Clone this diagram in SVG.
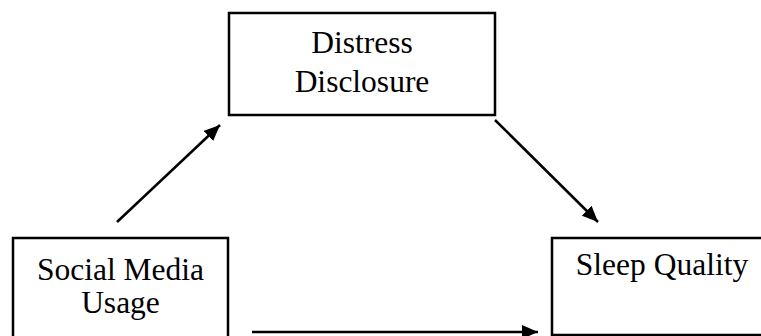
<svg xmlns="http://www.w3.org/2000/svg" width="761" height="336" viewBox="0 0 761 336">
<style>
.box{fill:#fff;stroke:#000;stroke-width:2.5}
.t{font-family:"Liberation Serif","Times New Roman",serif;font-size:31.5px;fill:#000;text-anchor:middle}
.c{stroke:#000;stroke-width:2.5;fill:none}
</style>
<defs>
<marker id="ah" markerUnits="userSpaceOnUse" markerWidth="16" markerHeight="14" refX="16" refY="7" orient="auto" viewBox="0 0 16 14">
<path d="M0,0 L16,7 L0,14 Z" fill="#000"/>
</marker>
</defs>
<rect width="761" height="336" fill="#fff"/>
<g id="distress">
<rect class="box" x="229" y="13" width="266" height="102"/>
<text class="t" x="362" y="53">Distress</text>
<text class="t" x="362" y="92">Disclosure</text>
</g>
<g id="social">
<rect class="box" x="13" y="238" width="215" height="110"/>
<text class="t" x="120.5" y="280">Social Media</text>
<text class="t" x="120.5" y="313">Usage</text>
</g>
<g id="sleep">
<rect class="box" x="552" y="238" width="220" height="97"/>
<text class="t" x="662" y="275">Sleep Quality</text>
</g>
<g id="connectors">
<line class="c" x1="117" y1="222" x2="220" y2="125" marker-end="url(#ah)"/>
<line class="c" x1="495" y1="120" x2="598" y2="222" marker-end="url(#ah)"/>
<line class="c" x1="252" y1="332" x2="538" y2="332" marker-end="url(#ah)"/>
</g>
</svg>
